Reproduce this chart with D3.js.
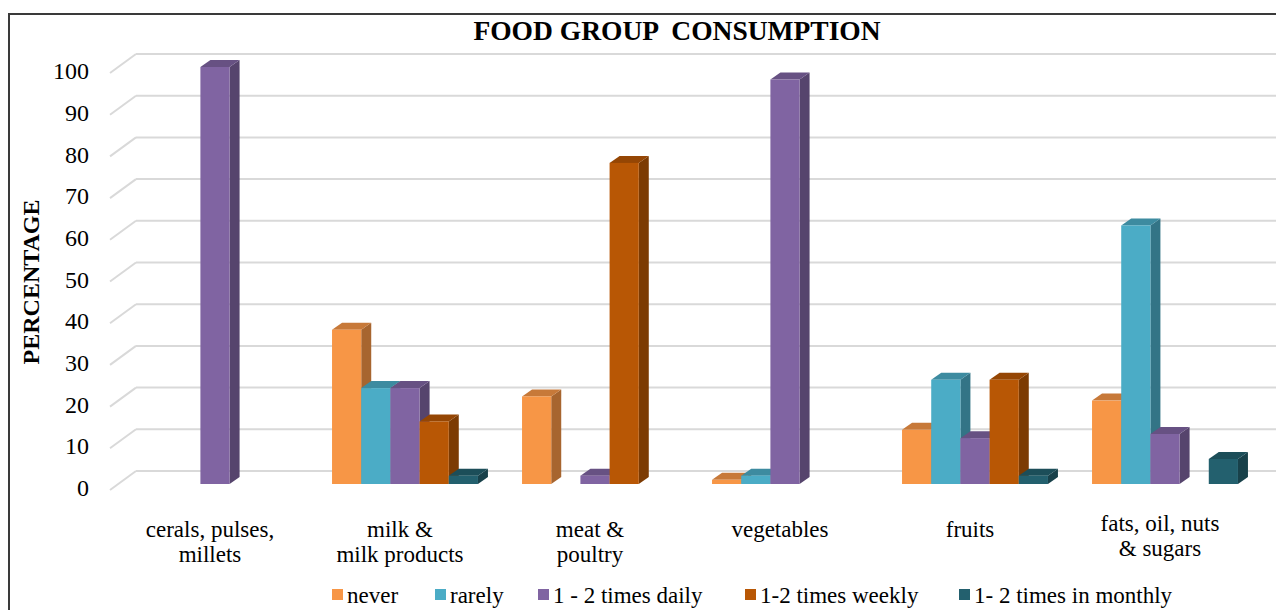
<!DOCTYPE html>
<html>
<head>
<meta charset="utf-8">
<script src="https://cdn.jsdelivr.net/npm/d3@7"></script>
<style>
  body { margin: 0; background: #fff; }
  svg { display: block; }
  text { font-family: "Liberation Serif", "Times New Roman", serif; fill: #000; }
</style>
</head>
<body>
<div class="chart"></div>
<script>
// food groups (x categories), label lines as shown under the axis
var categories = ["cerals, pulses, millets", "milk & milk products", "meat & poultry", "vegetables", "fruits", "fats, oil, nuts & sugars"];
var categoryLines = [["cerals, pulses,", "millets"], ["milk &", "milk products"], ["meat &", "poultry"], ["vegetables"], ["fruits"], ["fats, oil, nuts", "& sugars"]];

var seriesNames = ["never", "rarely", "1 - 2 times daily", "1-2 times weekly", "1- 2 times in monthly"];

// percentages, one array per series, in category order
var never   = [0, 37, 21, 1, 13, 20];
var rarely  = [0, 23, 0, 2, 25, 62];
var daily   = [100, 23, 2, 97, 11, 12];
var weekly  = [0, 15, 77, 0, 25, 0];
var monthly = [0, 2, 0, 0, 2, 6];

var yTicks = [0, 10, 20, 30, 40, 50, 60, 70, 80, 90, 100];

var colors = ["#F79646", "#4BACC6", "#8064A2", "#B85705", "#23606E"];

const W = 1276, H = 610;
const depthX = 10, depthY = -7;      // bar depth offset
const wallX = 26, wallY = -19;       // back wall offset for gridlines

var seriesData = [never, rarely, daily, weekly, monthly];
var rows = [];
categories.forEach((c, i) => {
    seriesNames.forEach((s, j) => {
        rows.push({cat: c, series: s, value: seriesData[j][i], k: j});
    });
});

var svg = d3.select(".chart")
    .append("svg")
    .attr("width", W)
    .attr("height", H);

// outer frame (right and bottom edges fall outside the picture)
svg.append("rect")
    .attr("x", 9).attr("y", 14)
    .attr("width", 1300).attr("height", 620)
    .attr("fill", "#fff")
    .attr("stroke", "#3a3a3a")
    .attr("stroke-width", 2);

const yScale = d3.scaleLinear()
    .domain([0, 100])
    .range([484, 67]);

const x0 = d3.scaleBand()
    .domain(categories)
    .range([120, 1260])
    .paddingInner(0.232)
    .paddingOuter(0.116);

const x1 = d3.scaleBand()
    .domain(seriesNames)
    .range([0, x0.bandwidth()]);

// gridlines: front diagonal + back wall line
var grid = svg.append("g");
grid.selectAll(".diag")
    .data(yTicks)
    .enter()
    .append("line")
    .attr("x1", 110)
    .attr("y1", d => yScale(d) + 6)
    .attr("x2", 110 + wallX)
    .attr("y2", d => yScale(d) + 6 + wallY)
    .attr("stroke", "#d9d9d9")
    .attr("stroke-width", 2);
grid.selectAll(".back")
    .data(yTicks)
    .enter()
    .append("line")
    .attr("x1", 110 + wallX)
    .attr("y1", d => yScale(d) + 6 + wallY)
    .attr("x2", W)
    .attr("y2", d => yScale(d) + 6 + wallY)
    .attr("stroke", "#d9d9d9")
    .attr("stroke-width", 2);

// y axis labels
var yAxis = d3.axisLeft(yScale)
    .tickValues(yTicks)
    .tickSize(0)
    .tickPadding(0);

var yAxisDisplay = svg.append("g")
    .attr("transform", "translate(89,4)")
    .call(yAxis);
yAxisDisplay.select(".domain").remove();
yAxisDisplay.selectAll("text")
    .style("font-family", "'Liberation Serif', serif")
    .attr("font-size", 24)
    .attr("fill", "#000");

// 3d bars
function shade(c, k) { return d3.color(c).darker(k).formatHex(); }

var bars = svg.append("g")
    .selectAll("g")
    .data(rows.filter(d => d.value > 0))
    .enter()
    .append("g")
    .attr("transform", d => "translate(" + (x0(d.cat) + x1(d.series)) + ",0)");

var bw = x1.bandwidth();
bars.append("path")   // side
    .attr("d", d => {
        var t = yScale(d.value), b = yScale(0);
        return "M" + bw + "," + t + "L" + (bw + depthX) + "," + (t + depthY) +
               "L" + (bw + depthX) + "," + (b + depthY) + "L" + bw + "," + b + "Z";
    })
    .attr("fill", d => shade(colors[d.k], 1.1));
bars.append("path")   // top
    .attr("d", d => {
        var t = yScale(d.value);
        return "M0," + t + "L" + depthX + "," + (t + depthY) +
               "L" + (bw + depthX) + "," + (t + depthY) + "L" + bw + "," + t + "Z";
    })
    .attr("fill", d => shade(colors[d.k], 0.6));
bars.append("rect")   // front
    .attr("x", 0)
    .attr("y", d => yScale(d.value))
    .attr("width", bw)
    .attr("height", d => yScale(0) - yScale(d.value))
    .attr("fill", d => colors[d.k]);

// category labels
var catLabels = svg.append("g")
    .selectAll("text")
    .data(categories)
    .enter()
    .append("text")
    .attr("x", d => x0(d) + x0.bandwidth() / 2 - 5)
    .attr("y", (d, i) => i == 5 ? 531 : 537)
    .attr("text-anchor", "middle")
    .attr("font-size", 23);
catLabels.selectAll("tspan")
    .data((d, i) => categoryLines[i])
    .enter()
    .append("tspan")
    .attr("x", function() { return d3.select(this.parentNode).attr("x"); })
    .attr("dy", (d, i) => i == 0 ? 0 : 25)
    .text(d => d);

// title
svg.append("text")
    .text("FOOD GROUP  CONSUMPTION")
    .attr("x", 677)
    .attr("y", 40)
    .attr("text-anchor", "middle")
    .attr("font-weight", "bold")
    .attr("font-size", 27.5)
    .style("white-space", "pre");

// y title
svg.append("text")
    .text("PERCENTAGE")
    .attr("transform", "translate(39,282) rotate(-90)")
    .attr("text-anchor", "middle")
    .attr("font-weight", "bold")
    .attr("font-size", 24);

// legend
var legendX = [332, 435, 538, 745, 959];
var legend = svg.append("g");
legend.selectAll("rect")
    .data(seriesNames)
    .enter()
    .append("rect")
    .attr("x", (d, i) => legendX[i])
    .attr("y", 589)
    .attr("width", 11)
    .attr("height", 11)
    .attr("fill", (d, i) => colors[i]);
legend.selectAll("text")
    .data(seriesNames)
    .enter()
    .append("text")
    .text(d => d)
    .attr("x", (d, i) => legendX[i] + 15)
    .attr("y", 603)
    .attr("font-size", 23)
    .style("white-space", "pre");
</script>
</body>
</html>
